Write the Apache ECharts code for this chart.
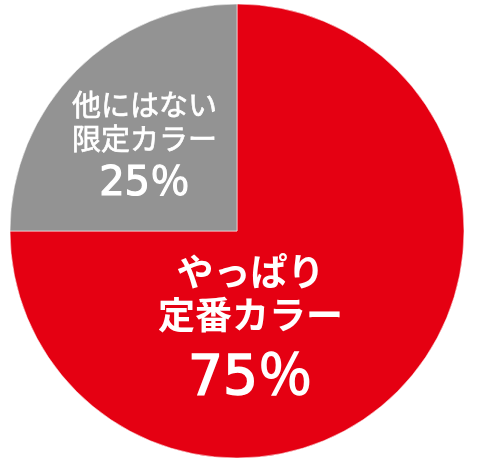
<!DOCTYPE html>
<html>
<head>
<meta charset="utf-8">
<script src="https://cdn.jsdelivr.net/npm/echarts@6/dist/echarts.min.js"></script>
<style>
html,body{margin:0;padding:0;background:#fff;}
#chart{width:477px;height:463px;}
</style>
</head>
<body>
<div id="chart"></div>
<script>
var categories = ['やっぱり\n定番カラー', '他にはない\n限定カラー'];
var values = [75, 25];
var colors = ['#e50012', '#939393'];

var myChart = echarts.init(document.getElementById('chart'));

// per slice label look
var labelStyles = [
    {name: {fontSize: 37, lineHeight: 43, fontWeight: 'bold', border: 0}, pct: {fontSize: 55, lineHeight: 86, border: 1.6}, dx: -69, dy: 23},
    {name: {fontSize: 29, lineHeight: 34, fontWeight: 'normal', border: 0.7}, pct: {fontSize: 40, lineHeight: 58, border: 1.2}, dx: -10, dy: 2}
];

var data = categories.map(function (name, i) {
    var ls = labelStyles[i];
    return {
        name: name,
        value: values[i],
        itemStyle: {color: colors[i]},
        label: {
            rich: {
                n: {
                    color: '#fff',
                    fontFamily: 'Noto Sans CJK JP',
                    fontSize: ls.name.fontSize,
                    lineHeight: ls.name.lineHeight,
                    fontWeight: ls.name.fontWeight,
                    textBorderColor: '#fff',
                    textBorderWidth: ls.name.border
                },
                p: {
                    color: '#fff',
                    fontFamily: 'DejaVu Sans, Noto Sans CJK JP',
                    fontSize: ls.pct.fontSize,
                    lineHeight: ls.pct.lineHeight,
                    fontWeight: 'normal',
                    textBorderColor: '#fff',
                    textBorderWidth: ls.pct.border
                }
            }
        }
    };
});

var option = {
    animation: false,
    series: [
        {
            type: 'pie',
            center: [237, 231],
            radius: [0, 227],
            startAngle: 90,
            clockwise: true,
            silent: true,
            itemStyle: {
                borderColor: 'rgba(255,255,255,0.55)',
                borderWidth: 1
            },
            label: {
                show: true,
                position: 'inside',
                align: 'center',
                formatter: function (p) {
                    return p.name.split('\n').map(function (s) {
                        return '{n|' + s + '}';
                    }).join('\n') + '\n{p|' + p.value + '％}';
                }
            },
            labelLine: {show: false},
            labelLayout: function (params) {
                var ls = labelStyles[params.dataIndex];
                return {dx: ls.dx, dy: ls.dy};
            },
            data: data
        }
    ]
};

myChart.setOption(option);
</script>
</body>
</html>
